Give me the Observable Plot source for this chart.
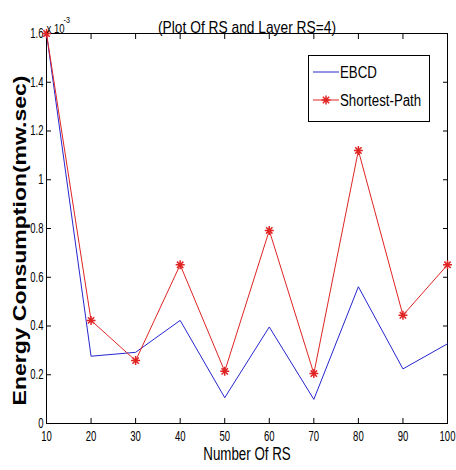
<!DOCTYPE html>
<html>
<head>
<meta charset="utf-8">
<script src="https://cdn.jsdelivr.net/npm/d3@7"></script>
<script src="https://cdn.jsdelivr.net/npm/@observablehq/plot@0.6"></script>
<style>
  html, body { margin: 0; padding: 0; background: #fff; }
  #wrap { position: relative; width: 456px; height: 470px; }
  #legend { position: absolute; left: 308px; top: 55px; }
</style>
</head>
<body>
<div id="wrap"></div>
<script>
const rs = [10, 20, 30, 40, 50, 60, 70, 80, 90, 100];
const ebcd = [1.6, 0.276, 0.292, 0.423, 0.106, 0.396, 0.099, 0.561, 0.224, 0.327];
const shortestPath = [1.6, 0.423, 0.258, 0.651, 0.214, 0.792, 0.205, 1.12, 0.444, 0.651];
const xTicks = [10, 20, 30, 40, 50, 60, 70, 80, 90, 100];
const yTicks = [0, 0.2, 0.4, 0.6, 0.8, 1, 1.2, 1.4, 1.6];
const seriesNames = ["EBCD", "Shortest-Path"];
const colors = ["#2626cf", "#e02424"];
const titleText = "(Plot Of RS and Layer RS=4)";
const xLabel = "Number Of RS";
const yLabel = "Energy Consumption(mw.sec)";

const data = [];
rs.forEach((x, i) => {
  data.push({rs: x, value: ebcd[i], series: seriesNames[0]});
  data.push({rs: x, value: shortestPath[i], series: seriesNames[1]});
});
const blue = data.filter(d => d.series === seriesNames[0]);
const red = data.filter(d => d.series === seriesNames[1]);

// MATLAB-style 8-armed asterisk marker
const star8 = {
  draw(context, size) {
    const r = Math.sqrt(size / Math.PI);
    const d = r * Math.SQRT1_2;
    context.moveTo(-r, 0); context.lineTo(r, 0);
    context.moveTo(0, -r); context.lineTo(0, r);
    context.moveTo(-d, -d); context.lineTo(d, d);
    context.moveTo(-d, d); context.lineTo(d, -d);
  }
};

const font = `"Liberation Sans", Arial, sans-serif`;

const chart = Plot.plot({
  width: 456,
  height: 470,
  marginTop: 33,
  marginLeft: 46,
  marginRight: 9,
  marginBottom: 47,
  style: {fontFamily: font, background: "#fff", color: "#000"},
  x: {domain: [10, 100]},
  y: {domain: [0, 1.6]},
  marks: [
    Plot.axisX({anchor: "bottom", ticks: xTicks, tickSize: -5, tickPadding: 13, fontSize: 14, label: null, tickFormat: d => String(d)}),
    Plot.axisX({anchor: "top", ticks: xTicks, tickSize: -5, tickFormat: () => "", label: null}),
    Plot.axisY({anchor: "left", ticks: yTicks, tickSize: -5, tickPadding: 8, fontSize: 14, label: null, tickFormat: d => String(d)}),
    Plot.axisY({anchor: "right", ticks: yTicks, tickSize: -5, tickFormat: () => "", label: null}),
    Plot.frame({stroke: "#000", strokeWidth: 1}),
    Plot.line(blue, {x: "rs", y: "value", stroke: colors[0], strokeWidth: 1}),
    Plot.line(red, {x: "rs", y: "value", stroke: colors[1], strokeWidth: 1}),
    Plot.dot(red, {x: "rs", y: "value", symbol: star8, r: 4.5, stroke: colors[1], strokeWidth: 1.5}),
    Plot.text([titleText], {frameAnchor: "top", dy: -13, fontSize: 17}),
    Plot.text(["x 10"], {frameAnchor: "top-left", dx: 0, dy: -9, fontSize: 12, textAnchor: "start"}),
    Plot.text(["-3"], {frameAnchor: "top-left", dx: 17, dy: -17, fontSize: 9, textAnchor: "start"}),
    Plot.text([xLabel], {frameAnchor: "bottom", dy: 36, fontSize: 18}),
    Plot.text([yLabel], {frameAnchor: "left", dx: -26, dy: 12, rotate: -90, textAnchor: "middle", fontSize: 23, fontWeight: "bold"})
  ]
});

const wrap = document.getElementById("wrap");
wrap.appendChild(chart);

// legend
const lg = d3.create("svg").attr("id", "legend").attr("width", 123).attr("height", 68)
  .style("font-family", font);
lg.append("rect").attr("x", 0.5).attr("y", 0.5).attr("width", 121).attr("height", 66)
  .attr("fill", "#fff").attr("stroke", "#000");
seriesNames.forEach((name, i) => {
  const y = i === 0 ? 17 : 45;
  lg.append("line").attr("x1", 5).attr("x2", 31).attr("y1", y).attr("y2", y)
    .attr("stroke", colors[i]).attr("stroke-width", 1);
  if (i === 1) {
    lg.append("path").attr("d", d3.symbol(star8, Math.PI * 4.5 * 4.5)()).attr("transform", `translate(18,${y})`)
      .attr("stroke", colors[i]).attr("stroke-width", 1.5).attr("fill", "none");
  }
  lg.append("text").attr("x", 32).attr("y", y).attr("dy", "0.35em")
    .attr("font-size", 16).text(name);
});
wrap.appendChild(lg.node());

// horizontal compression of text to mimic the reference's narrow lettering
function squeeze(el, f) {
  const len = el.getComputedTextLength();
  if (len > 0) {
    el.setAttribute("textLength", (len * f).toFixed(2));
    el.setAttribute("lengthAdjust", "spacingAndGlyphs");
  }
}
wrap.querySelectorAll("text").forEach(el => {
  const t = el.textContent;
  if (t === yLabel) {
    const tr = el.getAttribute("transform");
    if (tr) el.setAttribute("transform", tr + " scale(1,0.8)");
    return;
  }
  if (t === titleText) squeeze(el, 0.81);
  else if (t === xLabel) squeeze(el, 0.74);
  else if (t === "x 10" || t === "-3") squeeze(el, 0.8);
  else if (seriesNames.includes(t)) squeeze(el, 0.83);
  else squeeze(el, 0.68);
});
</script>
</body>
</html>
